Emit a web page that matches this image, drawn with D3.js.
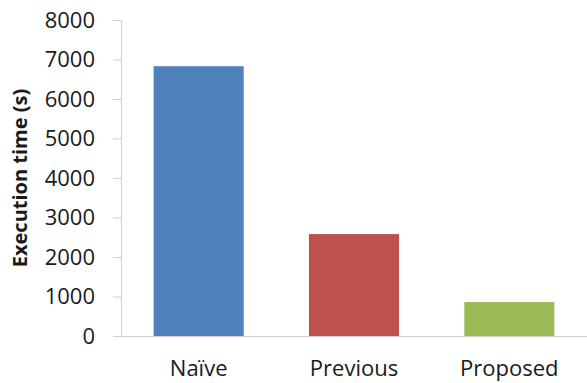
<!DOCTYPE html>
<html>
<head>
<meta charset="utf-8">
<script src="https://cdn.jsdelivr.net/npm/d3@7"></script>
<style>
  html, body { margin: 0; padding: 0; background: #fff; }
  svg { display: block; }
  text { font-family: "Open Sans", "Noto Sans", sans-serif; fill: #1a1a1a; }
</style>
</head>
<body>
<svg id="chart" width="587" height="383"></svg>
<script>
// Execution time of the three approaches
const categories = ["Naïve", "Previous", "Proposed"];
const times = [6830, 2580, 860];
const barColors = ["#4F81BD", "#C0504D", "#9BBB59"];
const yTicks = [0, 1000, 2000, 3000, 4000, 5000, 6000, 7000, 8000];
const yTitle = "Execution time (s)";

const svg = d3.select("#chart");
const margin = { left: 121, right: 0, top: 20, bottom: 47 };
const W = 587, H = 383;

const x = d3.scaleBand()
  .domain(categories)
  .range([margin.left, W - margin.right])
  .paddingInner(0.42)
  .paddingOuter(0.21);

const y = d3.scaleLinear()
  .domain([0, 8000])
  .range([H - margin.bottom, margin.top]);

// Bars
svg.append("g")
  .selectAll("rect")
  .data(categories)
  .join("rect")
  .attr("x", d => x(d))
  .attr("width", x.bandwidth())
  .attr("y", (d, i) => y(times[i]))
  .attr("height", (d, i) => y(0) - y(times[i]))
  .attr("fill", (d, i) => barColors[i]);

// Y axis
const yAxis = svg.append("g")
  .attr("transform", `translate(${margin.left},0)`)
  .call(d3.axisLeft(y).tickValues(yTicks).tickSize(8).tickPadding(18).tickFormat(d3.format("d")));
yAxis.select(".domain").attr("stroke", "#d0d0d0");
yAxis.selectAll(".tick line").attr("stroke", "#d0d0d0");
yAxis.selectAll(".tick text").attr("font-size", 22).attr("fill", "#1a1a1a")
  .style("font-family", "'Open Sans', sans-serif");

// X axis (baseline and category labels)
const xAxis = svg.append("g")
  .attr("transform", `translate(0,${y(0)})`)
  .call(d3.axisBottom(x).tickSize(0).tickPadding(24));
xAxis.select(".domain").attr("stroke", "#d0d0d0");
xAxis.selectAll(".tick text").attr("font-size", 22).attr("fill", "#1a1a1a")
  .style("font-family", "'Open Sans', sans-serif");

// Y axis title
svg.append("text")
  .attr("transform", `translate(27,${(y(0) + y(8000)) / 2}) rotate(-90)`)
  .attr("text-anchor", "middle")
  .attr("font-size", 20)
  .attr("font-weight", "bold")
  .text(yTitle);
</script>
</body>
</html>
